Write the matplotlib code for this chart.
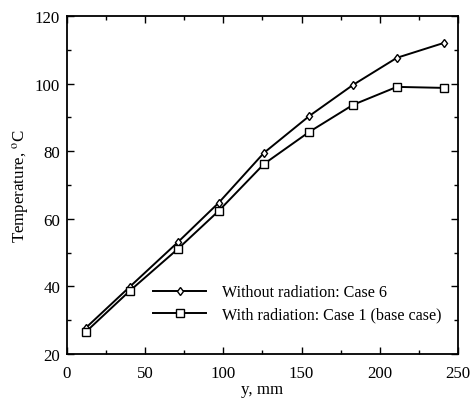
import matplotlib
matplotlib.use('Agg')
import matplotlib.pyplot as plt
from matplotlib.ticker import MultipleLocator

plt.rcParams['font.family'] = ['Liberation Serif', 'DejaVu Serif']
plt.rcParams['mathtext.fontset'] = 'stix'

# Data
y_mm = [12, 40, 71, 97, 126, 155, 183, 211, 241]
temp_no_rad = [27.7, 39.8, 53.1, 64.7, 79.5, 90.4, 99.6, 107.6, 112.0]
temp_rad = [26.5, 38.6, 51.1, 62.3, 76.2, 85.7, 93.7, 99.0, 98.7]
labels = ['Without radiation: Case 6', 'With radiation: Case 1 (base case)']

fs = 12.2
fig = plt.figure(figsize=(4.73, 4.02), dpi=100)
ax = fig.add_axes([0.1416, 0.117, 0.8264, 0.841])

ax.plot(y_mm, temp_no_rad, color='black', lw=1.4, marker='d', ms=4.5,
        mfc='white', mec='black', mew=1.0, label=labels[0])
ax.plot(y_mm, temp_rad, color='black', lw=1.4, marker='s', ms=5.5,
        mfc='white', mec='black', mew=1.0, label=labels[1])

ax.set_xlim(0, 250)
ax.set_ylim(20, 120)
ax.xaxis.set_major_locator(MultipleLocator(50))
ax.xaxis.set_minor_locator(MultipleLocator(25))
ax.yaxis.set_major_locator(MultipleLocator(20))
ax.yaxis.set_minor_locator(MultipleLocator(10))
ax.tick_params(which='both', direction='in', top=True, right=True, labelsize=fs)
ax.tick_params(which='major', length=5, width=1)
ax.tick_params(which='minor', length=3, width=1)
ax.tick_params(axis='x', which='major', pad=8)
ax.tick_params(axis='y', which='major', pad=5)
for s in ax.spines.values():
    s.set_linewidth(1.3)

ax.set_xlabel('y, mm', fontsize=fs, labelpad=0)
ax.set_ylabel('Temperature, $^{\\rm o}$C', fontsize=fs, labelpad=3)

ax.legend(loc='center left', bbox_to_anchor=(0.22, 0.149), frameon=False,
          fontsize=11.6, handlelength=3.3, handletextpad=1.0, labelspacing=0.4,
          borderpad=0, borderaxespad=0)

fig.savefig('out.png', dpi=100)
